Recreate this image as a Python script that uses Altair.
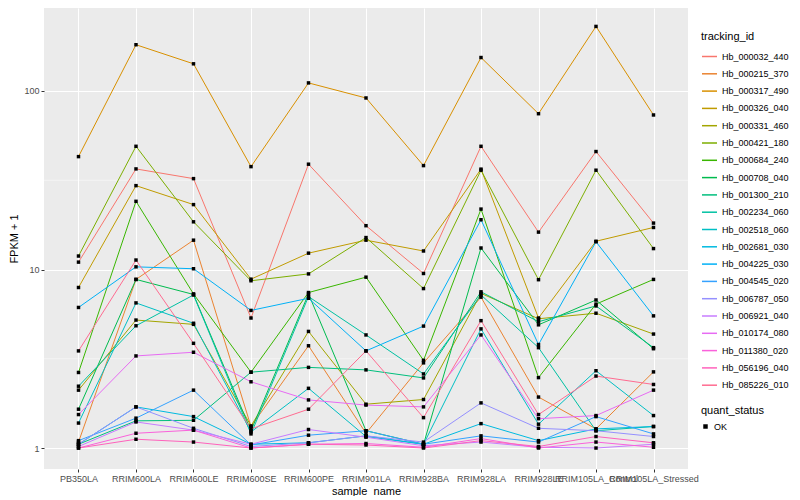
import altair as alt
import pandas as pd

samples = ["PB350LA", "RRIM600LA", "RRIM600LE", "RRIM600SE", "RRIM600PE", "RRIM901LA",
           "RRIM928BA", "RRIM928LA", "RRIM928LE", "RRIM105LA_Control", "RRIM105LA_Stressed"]

# FPKM + 1 values per gene, in sample order
Hb_000032_440 = [11.0, 36.6, 32.3, 5.35, 38.9, 17.6, 9.5, 49.0, 16.2, 45.8, 18.2]
Hb_000215_370 = [1.08, 8.8, 14.6, 1.32, 3.74, 1.21, 3.0, 7.0, 1.93, 1.28, 2.67]
Hb_000317_490 = [42.9, 181.6, 142.0, 37.7, 111.0, 91.4, 38.2, 154.0, 74.6, 230.0, 73.4]
Hb_000326_040 = [7.93, 29.5, 23.1, 8.83, 12.35, 14.6, 12.7, 36.5, 5.35, 14.4, 17.2]
Hb_000331_460 = [2.11, 5.21, 4.93, 1.33, 4.5, 1.76, 1.87, 7.35, 5.3, 5.69, 4.35]
Hb_000421_180 = [11.9, 49.0, 18.5, 8.65, 9.45, 15.1, 7.82, 36.0, 8.77, 36.0, 13.1]
Hb_000684_240 = [2.65, 24.1, 7.3, 2.66, 7.43, 9.06, 3.1, 21.8, 2.48, 6.4, 8.8]
Hb_000708_040 = [1.65, 8.8, 7.25, 1.25, 7.3, 1.25, 1.05, 13.2, 4.9, 6.75, 3.6]
Hb_001300_210 = [1.05, 1.42, 1.43, 2.66, 2.83, 2.74, 2.47, 7.5, 5.1, 6.25, 3.65]
Hb_002234_060 = [2.22, 4.84, 7.2, 1.2, 7.05, 4.3, 2.6, 7.2, 3.65, 1.25, 1.32]
Hb_002518_060 = [1.38, 6.5, 5.0, 1.23, 2.16, 1.16, 1.05, 4.65, 1.36, 2.71, 1.52]
Hb_002681_030 = [1.05, 1.7, 1.5, 1.05, 1.07, 1.17, 1.05, 1.37, 1.1, 1.28, 1.32]
Hb_004225_030 = [6.13, 10.35, 10.1, 5.9, 6.9, 3.5, 4.82, 19.0, 3.8, 14.3, 5.5]
Hb_004545_020 = [1.1, 1.47, 2.11, 1.04, 1.18, 1.25, 1.05, 1.17, 1.08, 1.5, 1.2]
Hb_006787_050 = [1.05, 1.7, 1.29, 1.02, 1.07, 1.17, 1.08, 1.79, 1.29, 1.25, 1.16]
Hb_006921_040 = [1.02, 1.4, 1.26, 1.05, 1.27, 1.15, 1.03, 1.08, 1.01, 1.0, 1.05]
Hb_010174_080 = [1.54, 3.28, 3.44, 2.35, 1.86, 1.74, 1.70, 4.3, 1.46, 1.52, 2.11]
Hb_011380_020 = [1.0, 1.21, 1.26, 1.0, 1.05, 1.06, 1.01, 1.13, 1.0, 1.08, 1.01]
Hb_056196_040 = [1.0, 1.12, 1.08, 1.0, 1.05, 1.04, 1.0, 1.1, 1.02, 1.16, 1.07]
Hb_085226_010 = [3.5, 11.3, 3.86, 1.28, 1.65, 3.5, 1.48, 5.17, 1.54, 2.53, 2.27]

genes = {
    "Hb_000032_440": Hb_000032_440, "Hb_000215_370": Hb_000215_370,
    "Hb_000317_490": Hb_000317_490, "Hb_000326_040": Hb_000326_040,
    "Hb_000331_460": Hb_000331_460, "Hb_000421_180": Hb_000421_180,
    "Hb_000684_240": Hb_000684_240, "Hb_000708_040": Hb_000708_040,
    "Hb_001300_210": Hb_001300_210, "Hb_002234_060": Hb_002234_060,
    "Hb_002518_060": Hb_002518_060, "Hb_002681_030": Hb_002681_030,
    "Hb_004225_030": Hb_004225_030, "Hb_004545_020": Hb_004545_020,
    "Hb_006787_050": Hb_006787_050, "Hb_006921_040": Hb_006921_040,
    "Hb_010174_080": Hb_010174_080, "Hb_011380_020": Hb_011380_020,
    "Hb_056196_040": Hb_056196_040, "Hb_085226_010": Hb_085226_010,
}

palette = ["#F8766D", "#EA8331", "#D89000", "#C09B00", "#A3A500", "#7CAE00", "#39B600",
           "#00BB4E", "#00BF7D", "#00C1A3", "#00BFC4", "#00BAE0", "#00B0F6", "#35A2FF",
           "#9590FF", "#C77CFF", "#E76BF3", "#FA62DB", "#FF62BC", "#FF6C91"]

y_breaks = [1, 10, 100]
minor_breaks = [3.162, 31.62]

rows = []
for g, vals in genes.items():
    for s, v in zip(samples, vals):
        rows.append({"tracking_id": g, "sample_name": s, "fpkm1": v, "quant_status": "OK"})
df = pd.DataFrame(rows)
minor_df = pd.DataFrame({"y": minor_breaks})

FONT = "Liberation Sans"

x_enc = alt.X("sample_name:N", sort=samples, title="sample_name",
              scale=alt.Scale(type="point", padding=0.6),
              axis=alt.Axis(labelAngle=0, labelOverlap=False, grid=True,
                            labelPadding=2, titlePadding=2))
y_scale = alt.Scale(type="log", domain=[0.763, 291.7], nice=False, zero=False)
y_enc = alt.Y("fpkm1:Q", title="FPKM + 1", scale=y_scale,
              axis=alt.Axis(values=y_breaks, format="d", grid=True,
                            labelPadding=2, titlePadding=4))

minor = alt.Chart(minor_df).mark_rule(color="white", strokeWidth=0.5).encode(
    y=alt.Y("y:Q", scale=y_scale)
)

lines = alt.Chart(df).mark_line(strokeWidth=1).encode(
    x=x_enc,
    y=y_enc,
    color=alt.Color("tracking_id:N", title="tracking_id",
                    scale=alt.Scale(domain=list(genes.keys()), range=palette),
                    legend=alt.Legend(symbolType="stroke", symbolSize=225,
                                      symbolStrokeWidth=1.5, rowPadding=3.3,
                                      orient="none", legendX=657, legendY=23)),
)

points = alt.Chart(df).mark_point(filled=True, size=12, opacity=1, color="black").encode(
    x=x_enc,
    y=y_enc,
    shape=alt.Shape("quant_status:N", title="quant_status",
                    scale=alt.Scale(domain=["OK"], range=["square"]),
                    legend=alt.Legend(symbolSize=20, symbolFillColor="black",
                                      symbolStrokeColor="black",
                                      orient="none", legendX=657, legendY=397)),
)

chart = alt.layer(minor, lines, points).properties(
    width=644, height=461, padding={"left": 0, "top": 0, "right": 0, "bottom": 0}
).configure_view(
    fill="#EBEBEB", strokeWidth=0
).configure_axis(
    labelFont=FONT, labelFontSize=9, labelColor="#4D4D4D",
    titleFont=FONT, titleFontSize=11, titleColor="black", titleFontWeight="normal",
    domain=False, tickColor="#333333", tickSize=3, tickWidth=1,
    gridColor="white", gridWidth=1,
).configure_legend(
    labelFont=FONT, labelFontSize=9, labelColor="black",
    titleFont=FONT, titleFontSize=11, titleFontWeight="normal", titleColor="black",
    titlePadding=6,
)

chart.save("out.html", embed_options={"renderer": "svg", "actions": False})
